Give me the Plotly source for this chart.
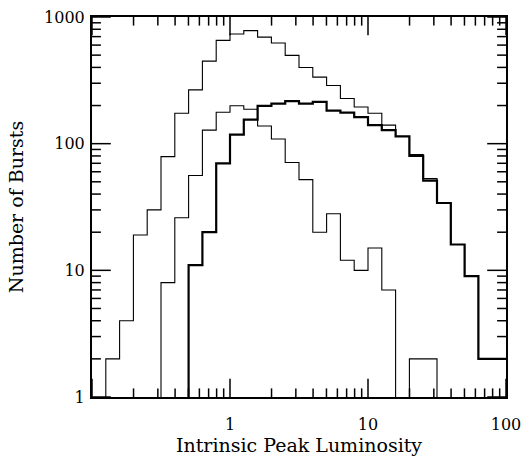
import math
import plotly.graph_objects as go

# Bin edges in log10(luminosity), 0.1 dex bins from 0.1 to 100
bin_edges_log = [-1.0, -0.9, -0.8, -0.7, -0.6, -0.5, -0.4, -0.3, -0.2, -0.1,
                 0.0, 0.1, 0.2, 0.3, 0.4, 0.5, 0.6, 0.7, 0.8, 0.9,
                 1.0, 1.1, 1.2, 1.3, 1.4, 1.5, 1.6, 1.7, 1.8, 1.9, 2.0]

# Counts per bin (30 bins)
total_counts = [0, 2, 4, 19, 30, 79, 174, 266, 448, 654,
                735, 780, 693, 624, 498, 399, 335, 288, 227, 195,
                174, 140, 114, 82, 53, 34, 16, 9, 2, 2]
low_counts = [0, 0, 0, 0, 0, 8, 26, 56, 128, 177,
              199, 187, 138, 109, 71, 52, 20, 28, 12, 10,
              15, 7, 0, 2, 2, 0, 0, 0, 0, 0]
high_counts = [0, 0, 0, 0, 0, 0, 0, 11, 20, 70,
               118, 155, 199, 207, 217, 207, 214, 182, 176, 162,
               140, 128, 114, 80, 51, 34, 16, 9, 2, 2]

x_major = [0.1, 1, 10, 100]
x_labels = ["", "1", "10", "100"]
y_major = [1, 10, 100, 1000]
y_labels = ["1", "10", "100", "1000"]
x_minor = [0.2, 0.3, 0.4, 0.5, 0.6, 0.7, 0.8, 0.9, 2, 3, 4, 5, 6, 7, 8, 9, 20, 30, 40, 50, 60, 70, 80, 90]
y_minor = [2, 3, 4, 5, 6, 7, 8, 9, 20, 30, 40, 50, 60, 70, 80, 90, 200, 300, 400, 500, 600, 700, 800, 900]

x_title = "Intrinsic Peak Luminosity"
y_title = "Number of Bursts"

X_RANGE = [-1, 2]   # log10 range
Y_RANGE = [0, 3]
FLOOR = 1e-3  # zero counts drawn below the axis (clipped)

W, H = 529, 459
ML, MR, MT, MB = 92, 19, 8, 54
PW, PH = W - ML - MR, H - MT - MB
MAJ_LEN, MIN_LEN = 19, 9


def step_xy(counts):
    xs = [10 ** e for e in bin_edges_log]
    vals = [c if c > 0 else FLOOR for c in counts]
    ys = vals + [vals[-1]]
    return xs, ys


def frac(v, rng):
    return (math.log10(v) - rng[0]) / (rng[1] - rng[0])


fig = go.Figure()
for counts, width in [(total_counts, 1.1), (low_counts, 1.1), (high_counts, 2.2)]:
    xs, ys = step_xy(counts)
    fig.add_trace(go.Scatter(x=xs, y=ys, mode="lines", line=dict(color="black", width=width, shape="hv"),
                             showlegend=False, hoverinfo="skip"))

# Inside tick marks on all four sides (paper coordinates from the log axis ranges)
shapes = []
tick_line = dict(color="black", width=1.5)
for vals, ln in [(x_major, MAJ_LEN), (x_minor, MIN_LEN)]:
    f = ln / PH
    for v in vals:
        p = frac(v, X_RANGE)
        shapes.append(dict(type="line", xref="paper", yref="paper", x0=p, x1=p, y0=0, y1=f, line=tick_line))
        shapes.append(dict(type="line", xref="paper", yref="paper", x0=p, x1=p, y0=1, y1=1 - f, line=tick_line))
for vals, ln in [(y_major, MAJ_LEN), (y_minor, MIN_LEN)]:
    f = ln / PW
    for v in vals:
        p = frac(v, Y_RANGE)
        shapes.append(dict(type="line", xref="paper", yref="paper", x0=0, x1=f, y0=p, y1=p, line=tick_line))
        shapes.append(dict(type="line", xref="paper", yref="paper", x0=1, x1=1 - f, y0=p, y1=p, line=tick_line))

font_family = "DejaVu Serif"
axis_common = dict(
    type="log", showline=True, linewidth=2, linecolor="black", mirror=True,
    ticks="", showgrid=False, zeroline=False, tickmode="array",
    tickfont=dict(family=font_family, size=16, color="black"),
)

fig.update_layout(
    width=W, height=H,
    margin=dict(l=ML, r=MR, t=MT, b=MB),
    paper_bgcolor="white", plot_bgcolor="white",
    shapes=shapes,
    xaxis=dict(axis_common, range=X_RANGE, tickvals=x_major, ticktext=x_labels, ticklabelstandoff=12,
               title=dict(text=x_title, font=dict(family=font_family, size=19, color="black"), standoff=3)),
    yaxis=dict(axis_common, range=Y_RANGE, tickvals=y_major, ticktext=y_labels, ticklabelstandoff=2,
               title=dict(text=y_title, font=dict(family=font_family, size=19, color="black"), standoff=15)),
)

fig.write_html("out.html")
